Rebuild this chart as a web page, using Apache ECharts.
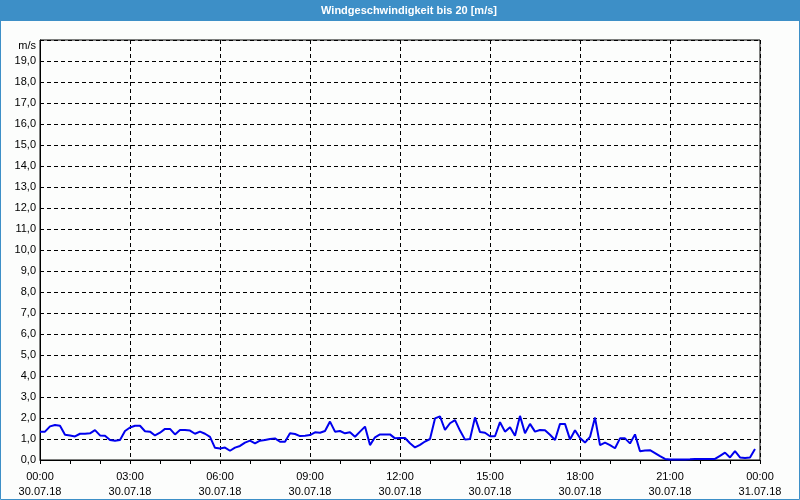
<!DOCTYPE html>
<html>
<head>
<meta charset="utf-8">
<script src="https://cdn.jsdelivr.net/npm/echarts@6/dist/echarts.min.js"></script>
<style>
html,body{margin:0;padding:0;background:#fcfdfc;}
#chart{width:800px;height:500px;}
</style>
</head>
<body>
<div id="chart"></div>
<script>
// 10-minute wind speed values [m/s], 30.07.18 00:00 .. 23:50
const stepMinutes = 10;
const windSpeed = [
  1.35,1.35,1.6,1.67,1.63,1.2,1.17,1.12,1.25,1.25,1.27,1.42,1.17,1.15,0.95,0.92,0.95,1.38,
  1.55,1.63,1.63,1.37,1.35,1.17,1.3,1.48,1.48,1.22,1.43,1.43,1.4,1.25,1.35,1.25,1.1,0.58,
  0.55,0.59,0.44,0.59,0.67,0.83,0.92,0.79,0.92,0.95,1.0,1.03,0.87,0.87,1.27,1.24,1.14,1.16,
  1.19,1.32,1.3,1.38,1.83,1.35,1.38,1.27,1.32,1.11,1.35,1.59,0.71,1.08,1.22,1.22,1.22,1.03,
  1.05,1.05,0.8,0.6,0.72,0.88,1.0,1.98,2.08,1.43,1.75,1.9,1.4,0.97,1.0,2.03,1.33,1.3,
  1.13,1.13,1.8,1.35,1.56,1.15,2.1,1.27,1.72,1.35,1.43,1.42,1.2,0.95,1.72,1.72,0.98,1.42,
  1.05,0.83,1.1,2.02,0.71,0.83,0.71,0.56,1.03,1.03,0.79,1.22,0.42,0.45,0.47,0.33,0.18,0.05,
  0.02,0.02,0.02,0.02,0.03,0.05,0.05,0.05,0.05,0.05,0.2,0.35,0.12,0.42,0.12,0.1,0.12,0.52
];
const xTickLabels = [
  '00:00\n30.07.18','03:00\n30.07.18','06:00\n30.07.18','09:00\n30.07.18',
  '12:00\n30.07.18','15:00\n30.07.18','18:00\n30.07.18','21:00\n30.07.18','00:00\n31.07.18'
];
const yTickLabels = ['0,0','1,0','2,0','3,0','4,0','5,0','6,0','7,0','8,0','9,0','10,0',
  '11,0','12,0','13,0','14,0','15,0','16,0','17,0','18,0','19,0',''];
const titleText = 'Windgeschwindigkeit bis 20 [m/s]';
const unitText = 'm/s';

const seriesData = windSpeed.map((v, i) => [i * stepMinutes / 60, v]);

const chart = echarts.init(document.getElementById('chart'), null, {renderer: 'canvas'});
const FONT = 'Liberation Sans';
chart.setOption({
  backgroundColor: '#fcfdfc',
  animation: false,
  graphic: [
    {type: 'rect', shape: {x: 0, y: 0, width: 800, height: 21}, style: {fill: '#3d8fc7'}, z: 0},
    {type: 'rect', shape: {x: 0.5, y: 0.5, width: 799, height: 499}, style: {fill: null, stroke: '#3d8fc7', lineWidth: 1}, z: 0},
    {type: 'text', x: 409, y: 11, style: {text: titleText, fill: '#ffffff', font: 'bold 11px ' + FONT, textAlign: 'center', textVerticalAlign: 'middle'}, z: 10},
    {type: 'text', x: 36, y: 46, style: {text: unitText, fill: '#000000', font: '11px ' + FONT, textAlign: 'right', textVerticalAlign: 'middle'}, z: 10}
  ],
  grid: {left: 40, right: 40, top: 40, bottom: 40, show: true, borderColor: '#000', borderWidth: 1, backgroundColor: 'transparent'},
  xAxis: {
    type: 'value', min: 0, max: 24, interval: 3,
    axisLine: {show: true, lineStyle: {color: '#000', width: 1}},
    axisTick: {show: true, length: 4, lineStyle: {color: '#000'}},
    minorTick: {show: true, splitNumber: 3, length: 4, lineStyle: {color: '#000'}},
    axisLabel: {
      color: '#000', fontFamily: FONT, fontSize: 11, lineHeight: 15, margin: 9,
      formatter: v => xTickLabels[Math.round(v / 3)]
    },
    splitLine: {show: true, lineStyle: {color: '#000', type: [4, 3], width: 1}}
  },
  yAxis: {
    type: 'value', min: 0, max: 20, interval: 1,
    axisLine: {show: true, lineStyle: {color: '#000', width: 1}},
    axisTick: {show: false},
    axisLabel: {color: '#000', fontFamily: FONT, fontSize: 11, margin: 4,
      formatter: v => yTickLabels[Math.round(v)]},
    splitLine: {show: true, lineStyle: {color: '#000', type: [4, 3], width: 1}}
  },
  series: [{
    type: 'line', data: seriesData, showSymbol: false, symbol: 'none',
    lineStyle: {color: '#0000ee', width: 2}, z: 5
  }]
});
</script>
</body>
</html>
